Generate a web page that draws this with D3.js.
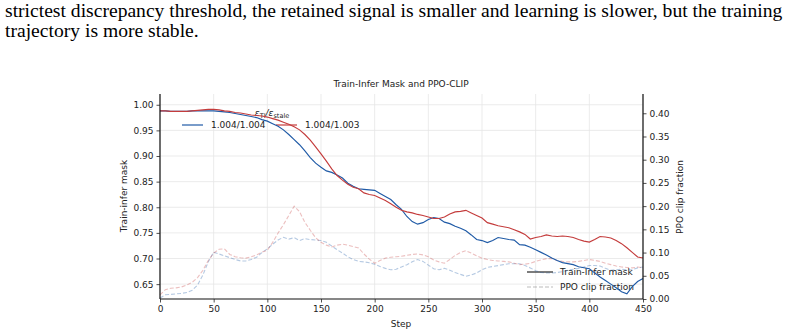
<!DOCTYPE html>
<html lang="en">
<head>
  <meta charset="UTF-8">
  <title>Train-Infer Mask and PPO-CLIP</title>
  <style>
    body { margin: 0; background: #fff; }
    svg text { font-family: "DejaVu Sans", sans-serif; fill: #222; }
    .para { font-family: "Liberation Serif", "Times New Roman", serif; fill: #000; }
    .grid line { stroke: #e6e6e6; stroke-width: 0.8; }
  </style>
</head>
<body>
  <svg id="chart" width="804" height="336"></svg>

  <script src="https://d3js.org/d3.v7.min.js"></script>
  <script>
    // steps shared by all four series
    const steps = d3.range(0, 451, 5);

    // Train-infer mask (left axis)
    const maskA = [0.988,0.988,0.987,0.987,0.987,0.987,0.988,0.988,0.988,0.988,
      0.988,0.987,0.986,0.985,0.983,0.981,0.979,0.977,0.975,0.971,
      0.968,0.963,0.958,0.951,0.942,0.932,0.922,0.910,0.897,0.886,
      0.878,0.871,0.868,0.863,0.857,0.847,0.841,0.836,0.835,0.834,
      0.833,0.827,0.821,0.815,0.805,0.796,0.782,0.772,0.767,0.770,
      0.776,0.780,0.778,0.771,0.768,0.763,0.759,0.754,0.746,0.737,
      0.735,0.731,0.735,0.741,0.739,0.737,0.736,0.727,0.726,0.722,
      0.717,0.712,0.707,0.701,0.696,0.692,0.690,0.688,0.684,0.682,
      0.680,0.672,0.664,0.657,0.650,0.643,0.635,0.631,0.645,0.655,0.661];
    const maskB = [0.988,0.988,0.987,0.987,0.987,0.987,0.988,0.989,0.990,0.991,
      0.991,0.990,0.988,0.987,0.985,0.984,0.982,0.980,0.979,0.978,
      0.976,0.973,0.970,0.966,0.962,0.957,0.951,0.942,0.931,0.918,
      0.904,0.890,0.875,0.862,0.853,0.845,0.839,0.836,0.828,0.825,
      0.823,0.818,0.813,0.807,0.800,0.794,0.791,0.789,0.786,0.784,
      0.781,0.778,0.778,0.781,0.787,0.791,0.792,0.794,0.789,0.784,
      0.779,0.770,0.767,0.764,0.762,0.760,0.756,0.752,0.747,0.738,
      0.741,0.743,0.746,0.744,0.743,0.744,0.743,0.741,0.737,0.734,
      0.732,0.737,0.743,0.742,0.740,0.735,0.729,0.721,0.712,0.703,0.701];

    // PPO clip fraction (right axis)
    const clipA = [0.002,0.009,0.010,0.011,0.012,0.014,0.019,0.030,0.052,0.080,
      0.101,0.097,0.093,0.089,0.085,0.082,0.082,0.085,0.090,0.100,
      0.108,0.118,0.127,0.133,0.129,0.132,0.126,0.130,0.128,0.127,
      0.126,0.122,0.114,0.106,0.099,0.091,0.085,0.081,0.080,0.078,
      0.075,0.070,0.066,0.063,0.064,0.069,0.074,0.080,0.085,0.081,
      0.073,0.065,0.063,0.066,0.062,0.057,0.053,0.049,0.052,0.056,
      0.063,0.068,0.070,0.072,0.074,0.076,0.076,0.076,0.072,0.067,
      0.061,0.057,0.056,0.056,0.057,0.059,0.062,0.064,0.066,0.069,
      0.072,0.072,0.071,0.066,0.062,0.063,0.064,0.063,0.063,0.067,0.069];
    const clipB = [0.009,0.020,0.023,0.024,0.026,0.030,0.036,0.046,0.062,0.083,
      0.099,0.107,0.108,0.096,0.091,0.089,0.088,0.091,0.095,0.101,
      0.105,0.122,0.142,0.160,0.180,0.200,0.188,0.165,0.148,0.132,
      0.122,0.116,0.112,0.116,0.118,0.116,0.113,0.110,0.097,0.086,
      0.077,0.083,0.088,0.090,0.091,0.092,0.094,0.096,0.097,0.095,
      0.091,0.084,0.080,0.077,0.085,0.094,0.100,0.104,0.099,0.093,
      0.088,0.085,0.083,0.082,0.081,0.080,0.077,0.074,0.075,0.077,
      0.081,0.084,0.087,0.087,0.083,0.081,0.080,0.080,0.081,0.083,
      0.085,0.083,0.081,0.077,0.074,0.071,0.069,0.068,0.067,0.069,0.067];

    const runLabels = ["1.004/1.004", "1.004/1.003"];
    const xTicks = [0, 50, 100, 150, 200, 250, 300, 350, 400, 450];
    const leftTicks = [0.65, 0.70, 0.75, 0.80, 0.85, 0.90, 0.95, 1.00];
    const rightTicks = [0.00, 0.05, 0.10, 0.15, 0.20, 0.25, 0.30, 0.35, 0.40];

    const blue = "#1f5aa6", red = "#c43c3c";

    const svg = d3.select("#chart");
    const L = 160, R = 643, T = 94, B = 299;

    // paragraph text above the figure
    const para = svg.append("g");
    para.append("text").attr("class", "para").attr("x", 5).attr("y", 17)
      .style("font-size", "19.6px")
      .text("strictest discrepancy threshold, the retained signal is smaller and learning is slower, but the training");
    para.append("text").attr("class", "para").attr("x", 5).attr("y", 37)
      .style("font-size", "19.6px")
      .text("trajectory is more stable.");

    const x = d3.scaleLinear().domain([0, 450]).range([L, R]);
    const yL = d3.scaleLinear().domain([0.621, 1.021]).range([B, T]);
    const yR = d3.scaleLinear().domain([0, 0.4415]).range([B, T]);

    // grid
    const grid = svg.append("g").attr("class", "grid");
    grid.selectAll(".gx").data(xTicks).join("line")
      .attr("x1", d => x(d)).attr("x2", d => x(d)).attr("y1", T).attr("y2", B);
    grid.selectAll(".gy").data(leftTicks).join("line")
      .attr("x1", L).attr("x2", R).attr("y1", d => yL(d)).attr("y2", d => yL(d));

    // legends (drawn under the lines, as in the original)
    const leg1 = svg.append("g");
    leg1.append("text").attr("x", 272).attr("y", 116).attr("text-anchor", "middle")
      .style("font-size", "9px").style("font-style", "italic")
      .html('ε<tspan dy="2" style="font-size:6.5px;font-style:normal">TI</tspan><tspan dy="-2">/ε</tspan><tspan dy="2" style="font-size:6.5px;font-style:normal">stale</tspan>');
    [[182, blue], [276, red]].forEach(([lx, c], i) => {
      leg1.append("line").attr("x1", lx).attr("x2", lx + 21).attr("y1", 125).attr("y2", 125)
        .attr("stroke", c).attr("stroke-width", 1.2);
      leg1.append("text").attr("x", lx + 29).attr("y", 128.3).style("font-size", "9px").text(runLabels[i]);
    });

    const leg2 = svg.append("g");
    leg2.append("line").attr("x1", 527).attr("x2", 553).attr("y1", 272).attr("y2", 272)
      .attr("stroke", "#444").attr("stroke-width", 1.4);
    leg2.append("line").attr("x1", 527).attr("x2", 553).attr("y1", 287).attr("y2", 287)
      .attr("stroke", "#444").attr("stroke-width", 1.1).attr("stroke-dasharray", "4,2")
      .attr("opacity", 0.35);
    leg2.append("text").attr("x", 560).attr("y", 275.3).style("font-size", "9px").text("Train-Infer mask");
    leg2.append("text").attr("x", 560).attr("y", 290.3).style("font-size", "9px").text("PPO clip fraction");

    // lines
    const lineL = d3.line().x((d, i) => x(steps[i])).y(d => yL(d));
    const lineR = d3.line().x((d, i) => x(steps[i])).y(d => yR(d));

    [[clipA, blue], [clipB, red]].forEach(([s, c]) => {
      svg.append("path").datum(s).attr("d", lineR).attr("fill", "none")
        .attr("stroke", c).attr("stroke-width", 1.1).attr("stroke-dasharray", "4,2")
        .attr("opacity", 0.33);
    });
    [[maskA, blue], [maskB, red]].forEach(([s, c]) => {
      svg.append("path").datum(s).attr("d", lineL).attr("fill", "none")
        .attr("stroke", c).attr("stroke-width", 1.15);
    });

    // axes
    const fmt2 = d3.format(".2f");
    const ax = svg.append("g").attr("transform", `translate(0,${B})`)
      .call(d3.axisBottom(x).tickValues(xTicks).tickSize(3.5).tickPadding(3));
    const ayl = svg.append("g").attr("transform", `translate(${L},0)`)
      .call(d3.axisLeft(yL).tickValues(leftTicks).tickFormat(fmt2).tickSize(3.5).tickPadding(3));
    const ayr = svg.append("g").attr("transform", `translate(${R},0)`)
      .call(d3.axisRight(yR).tickValues(rightTicks).tickFormat(fmt2).tickSize(3.5).tickPadding(3));
    [ax, ayl, ayr].forEach(g => {
      g.selectAll("text").style("font-size", "9px").attr("fill", "#222")
        .style("font-family", "DejaVu Sans, sans-serif");
      g.selectAll("line").attr("stroke", "#222").attr("stroke-width", 0.8);
      g.select(".domain").attr("stroke", "#111").attr("stroke-width", 1.2);
    });
    // plain spines without the d3 end ticks
    ax.select(".domain").attr("d", `M${L},0H${R}`);
    ayl.select(".domain").attr("d", `M0,${T}V${B}`);
    ayr.select(".domain").attr("d", `M0,${T}V${B}`);

    // labels and title
    svg.append("text").attr("x", 401).attr("y", 87).attr("text-anchor", "middle")
      .style("font-size", "9px").text("Train-Infer Mask and PPO-CLIP");
    svg.append("text").attr("x", 401).attr("y", 327).attr("text-anchor", "middle")
      .style("font-size", "9px").text("Step");
    svg.append("text").attr("transform", "translate(127,196) rotate(-90)").attr("text-anchor", "middle")
      .style("font-size", "9px").text("Train-infer mask");
    svg.append("text").attr("transform", "translate(683,197) rotate(-90)").attr("text-anchor", "middle")
      .style("font-size", "9px").text("PPO clip fraction");
  </script>
</body>
</html>
